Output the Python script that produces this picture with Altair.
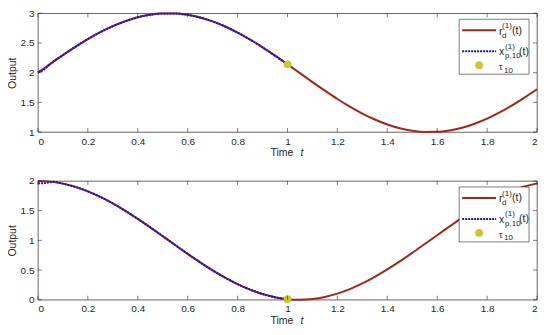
import altair as alt
import pandas as pd

# ---------------- data ----------------
time = [0.00, 0.05, 0.10, 0.15, 0.20, 0.25, 0.30, 0.35, 0.40, 0.45,
        0.50, 0.55, 0.60, 0.65, 0.70, 0.75, 0.80, 0.85, 0.90, 0.95,
        1.00, 1.05, 1.10, 1.15, 1.20, 1.25, 1.30, 1.35, 1.40, 1.45,
        1.50, 1.55, 1.60, 1.65, 1.70, 1.75, 1.80, 1.85, 1.90, 1.95, 2.00]

# top panel: reference r_d^(1)(t)
top_ref = [2.000, 2.149, 2.296, 2.435, 2.565, 2.682, 2.783, 2.867, 2.932, 2.976,
           2.997, 2.997, 2.974, 2.929, 2.863, 2.778, 2.675, 2.558, 2.427, 2.287,
           2.141, 1.992, 1.842, 1.697, 1.557, 1.428, 1.312, 1.212, 1.128, 1.065,
           1.022, 1.002, 1.004, 1.028, 1.074, 1.141, 1.227, 1.331, 1.449, 1.580, 1.721]
# top panel: tracked x_{p,10}^(1)(t), 0..1
top_trk_t = [0.00, 0.02, 0.05, 0.10, 0.15, 0.20, 0.25, 0.30, 0.35, 0.40, 0.45,
             0.50, 0.55, 0.60, 0.65, 0.70, 0.75, 0.80, 0.85, 0.90, 0.95, 1.00]
top_trk = [2.010, 2.040, 2.149, 2.296, 2.435, 2.565, 2.682, 2.783, 2.867, 2.932, 2.976,
           2.997, 2.997, 2.974, 2.929, 2.863, 2.778, 2.675, 2.558, 2.427, 2.287, 2.141]

# bottom panel
bot_ref = [2.000, 1.989, 1.955, 1.900, 1.825, 1.732, 1.622, 1.498, 1.362, 1.219,
           1.071, 0.921, 0.773, 0.630, 0.495, 0.372, 0.263, 0.170, 0.096, 0.042,
           0.010, 0.000, 0.013, 0.047, 0.103, 0.179, 0.274, 0.385, 0.510, 0.645,
           0.789, 0.938, 1.087, 1.235, 1.378, 1.512, 1.635, 1.743, 1.835, 1.907, 1.960]
bot_trk_t = [0.00, 0.02, 0.04, 0.06, 0.10, 0.15, 0.20, 0.25, 0.30, 0.35, 0.40, 0.45,
             0.50, 0.55, 0.60, 0.65, 0.70, 0.75, 0.80, 0.85, 0.90, 0.95, 1.00]
bot_trk = [1.960, 1.960, 1.975, 1.985, 1.955, 1.900, 1.825, 1.732, 1.622, 1.498, 1.362, 1.219,
           1.071, 0.921, 0.773, 0.630, 0.495, 0.372, 0.263, 0.170, 0.096, 0.042, 0.010]

tau_t = [1.0]
top_tau = [2.141]
bot_tau = [0.010]

x_ticks = [0, 0.2, 0.4, 0.6, 0.8, 1, 1.2, 1.4, 1.6, 1.8, 2]
top_y_ticks = [1, 1.5, 2, 2.5, 3]
bot_y_ticks = [0, 0.5, 1, 1.5, 2]

# ---------------- style ----------------
W, H = 500, 119
RED = "#a3261a"
BLUE = "#1414d8"
YEL = "#c8c828"
INK = "#262626"
FONT = "Liberation Sans"


def panel(ref, trk_t, trk, tau, ydom, yticks):
    X = alt.X("t:Q", scale=alt.Scale(domain=[0, 2], nice=False),
              axis=alt.Axis(values=x_ticks, format="~g", title=None, tickSize=0,
                            labelPadding=4, domain=False, grid=False))
    Y = alt.Y("v:Q", scale=alt.Scale(domain=ydom, nice=False),
              axis=alt.Axis(values=yticks, format="~g", title="Output", tickSize=0,
                            labelPadding=4, titlePadding=3, domain=False, grid=False))

    d_ref = pd.DataFrame({"t": time, "v": ref})
    d_trk = pd.DataFrame({"t": trk_t, "v": trk})
    d_tau = pd.DataFrame({"t": tau_t, "v": tau})
    d_xt = pd.DataFrame({"t": x_ticks})
    d_yt = pd.DataFrame({"v": yticks})
    one = pd.DataFrame({"a": [0]})

    red = alt.Chart(d_ref).mark_line(color=RED, strokeWidth=2, interpolate="monotone").encode(x=X, y=Y)
    blue = alt.Chart(d_trk).mark_line(color=BLUE, strokeWidth=2, strokeDash=[2, 1],
                                      interpolate="monotone").encode(x=X, y=Y)
    pt = alt.Chart(d_tau).mark_point(filled=True, color=YEL, size=60, opacity=1).encode(x=X, y=Y)

    xt_b = alt.Chart(d_xt).mark_rule(color=INK, strokeWidth=0.6).encode(
        x=X, y=alt.value(H), y2=alt.value(H - 4))
    xt_t = alt.Chart(d_xt).mark_rule(color=INK, strokeWidth=0.6).encode(
        x=X, y=alt.value(0), y2=alt.value(4))
    yt_l = alt.Chart(d_yt).mark_rule(color=INK, strokeWidth=0.6).encode(
        y=Y, x=alt.value(0), x2=alt.value(4))
    yt_r = alt.Chart(d_yt).mark_rule(color=INK, strokeWidth=0.6).encode(
        y=Y, x=alt.value(W - 4), x2=alt.value(W))

    # legend
    bx0 = W - 78
    box = alt.Chart(one).mark_rect(fill="white", stroke=INK, strokeWidth=0.6).encode(
        x=alt.value(bx0), x2=alt.value(W - 8), y=alt.value(6), y2=alt.value(61))
    lg_red = alt.Chart(one).mark_rule(color=RED, strokeWidth=2).encode(
        x=alt.value(bx0 + 3), x2=alt.value(bx0 + 37), y=alt.value(17))
    lg_blue = alt.Chart(one).mark_rule(color=BLUE, strokeWidth=2, strokeDash=[2, 1]).encode(
        x=alt.value(bx0 + 3), x2=alt.value(bx0 + 37), y=alt.value(38))
    lg_pt = alt.Chart(one).mark_point(filled=True, color=YEL, size=60, opacity=1).encode(
        x=alt.value(bx0 + 20), y=alt.value(52))

    def txt(s, x, y, size=10.5, style="normal"):
        return alt.Chart(one).mark_text(text=s, align="left", baseline="middle",
                                        fontSize=size, font=FONT, color=INK,
                                        fontStyle=style).encode(
            x=alt.value(x), y=alt.value(y))

    tx = bx0 + 40
    texts = [
        txt("r", tx, 18.5),
        txt("(1)", tx + 3, 13, 8),
        txt("d", tx + 3, 22.5, 8),
        txt("(t)", tx + 13, 17.5),
        txt("x", tx, 39),
        txt("(1)", tx + 6, 33.5, 8),
        txt("p,10", tx + 6, 43, 8),
        txt("(t)", tx + 20, 38.5),
        txt("τ", tx, 54, 9),
        txt("10", tx + 5, 57.5, 8),
        # x-axis title "Time t"
        txt("Time", W / 2 - 17, H + 21, 10.5),
        txt("t", W / 2 + 13, H + 21, 10.5, "italic"),
    ]

    return alt.layer(red, blue, pt, xt_b, xt_t, yt_l, yt_r,
                     box, lg_red, lg_blue, lg_pt, *texts).properties(width=W, height=H)


top = panel(top_ref, top_trk_t, top_trk, top_tau, [1, 3], top_y_ticks)
bot = panel(bot_ref, bot_trk_t, bot_trk, bot_tau, [0, 2], bot_y_ticks)

chart = alt.vconcat(top, bot, spacing=16).properties(
    padding={"left": -2, "top": -1, "right": 0, "bottom": -2}
).configure_view(
    stroke=INK, strokeWidth=0.7
).configure_axis(
    labelFont=FONT, titleFont=FONT, labelFontSize=10, titleFontSize=10.5,
    labelColor=INK, titleColor=INK, titleFontWeight="normal"
)

chart.save("out.html", embed_options={"renderer": "svg", "actions": False})
